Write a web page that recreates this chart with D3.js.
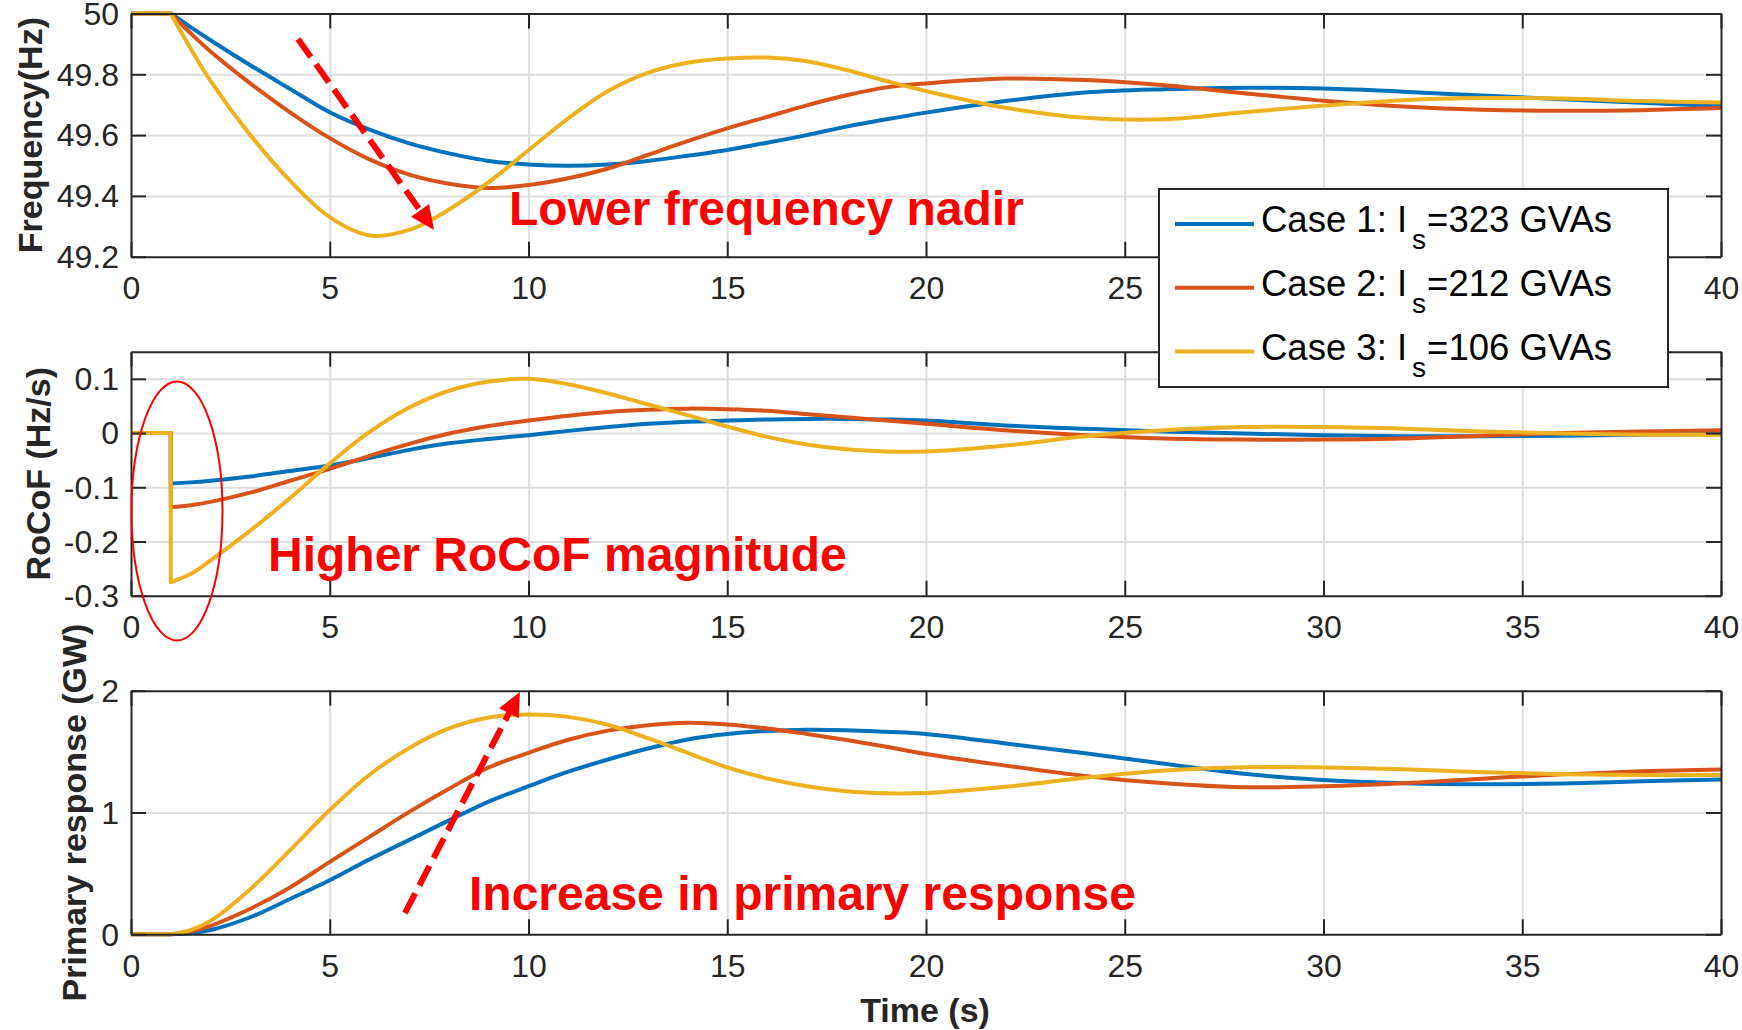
<!DOCTYPE html>
<html><head><meta charset="utf-8">
<script src="https://cdn.jsdelivr.net/npm/d3@7"></script>
<style>
body{margin:0;background:#fff;}
text{font-family:"Liberation Sans",Arial,Helvetica,sans-serif;}
</style>
</head><body>
<svg id="chart" width="1742" height="1030"></svg>
<script>
// ---------- data ----------
const timeTicks = [0, 5, 10, 15, 20, 25, 30, 35, 40];
const timePre = [0, 1];
const timePost = [1, 1.5, 2, 3, 4, 5, 6, 7, 8, 9, 10, 11, 12, 13, 14, 15, 16, 17, 18, 19, 20, 22, 24, 26, 28, 30, 32, 34, 36, 38, 40];

const caseNames = ["Case 1", "Case 2", "Case 3"];
const inertia = [323, 212, 106];
const caseColors = ["#0072BD", "#D95319", "#EDB120"];

const freqTicks = [49.2, 49.4, 49.6, 49.8, 50];
const freqTickLabels = ["49.2", "49.4", "49.6", "49.8", "50"];
const freqPre = 50;
const freqCase1 = [50, 49.955, 49.912, 49.83, 49.752, 49.675, 49.618, 49.573, 49.54, 49.515, 49.503, 49.499, 49.503, 49.515, 49.532, 49.551, 49.575, 49.6, 49.628, 49.652, 49.674, 49.712, 49.74, 49.751, 49.756, 49.753, 49.743, 49.73, 49.718, 49.706, 49.696];
const freqCase2 = [50, 49.935, 49.875, 49.77, 49.675, 49.59, 49.52, 49.47, 49.44, 49.426, 49.436, 49.458, 49.49, 49.535, 49.58, 49.622, 49.66, 49.698, 49.731, 49.757, 49.77, 49.786, 49.781, 49.764, 49.738, 49.713, 49.694, 49.683, 49.68, 49.682, 49.689];
const freqCase3 = [50, 49.885, 49.778, 49.6, 49.45, 49.33, 49.27, 49.288, 49.355, 49.445, 49.55, 49.655, 49.745, 49.805, 49.838, 49.852, 49.855, 49.843, 49.814, 49.778, 49.745, 49.69, 49.657, 49.652, 49.675, 49.697, 49.715, 49.722, 49.72, 49.712, 49.707];

const rocofTicks = [-0.3, -0.2, -0.1, 0, 0.1];
const rocofTickLabels = ["-0.3", "-0.2", "-0.1", "0", "0.1"];
const rocofPre = 0;
const rocofCase1 = [-0.093, -0.091, -0.088, -0.08, -0.07, -0.06, -0.046, -0.031, -0.019, -0.011, -0.004, 0.004, 0.011, 0.017, 0.021, 0.023, 0.025, 0.026, 0.026, 0.025, 0.023, 0.014, 0.008, 0.003, -0.001, -0.004, -0.006, -0.006, -0.005, -0.003, -0.002];
const rocofCase2 = [-0.137, -0.133, -0.127, -0.11, -0.088, -0.066, -0.042, -0.02, -0.001, 0.013, 0.023, 0.032, 0.039, 0.043, 0.045, 0.044, 0.041, 0.035, 0.029, 0.023, 0.017, 0.005, -0.004, -0.01, -0.012, -0.012, -0.01, -0.005, 0, 0.003, 0.005];
const rocofCase3 = [-0.275, -0.26, -0.235, -0.18, -0.12, -0.056, 0.002, 0.047, 0.078, 0.095, 0.1, 0.09, 0.073, 0.053, 0.033, 0.012, -0.007, -0.021, -0.03, -0.034, -0.034, -0.023, -0.006, 0.005, 0.011, 0.011, 0.008, 0.003, -0.001, -0.003, -0.003];

const primTicks = [0, 1, 2];
const primTickLabels = ["0", "1", "2"];
const primPre = 0;
const primCase1 = [0, 0.01, 0.035, 0.14, 0.29, 0.444, 0.615, 0.775, 0.935, 1.09, 1.216, 1.335, 1.435, 1.525, 1.6, 1.644, 1.67, 1.68, 1.676, 1.662, 1.645, 1.567, 1.486, 1.4, 1.318, 1.266, 1.24, 1.232, 1.238, 1.256, 1.271];
const primCase2 = [0, 0.025, 0.07, 0.21, 0.385, 0.595, 0.8, 1.005, 1.195, 1.37, 1.49, 1.597, 1.672, 1.717, 1.737, 1.723, 1.69, 1.645, 1.595, 1.54, 1.48, 1.385, 1.3, 1.24, 1.208, 1.216, 1.24, 1.278, 1.313, 1.338, 1.353];
const primCase3 = [0, 0.035, 0.11, 0.37, 0.69, 1.02, 1.31, 1.53, 1.69, 1.78, 1.805, 1.785, 1.72, 1.61, 1.49, 1.37, 1.28, 1.215, 1.175, 1.158, 1.16, 1.211, 1.285, 1.345, 1.372, 1.37, 1.355, 1.33, 1.315, 1.307, 1.307];

const yLabels = ["Frequency(Hz)", "RoCoF (Hz/s)", "Primary response (GW)"];
const xLabel = "Time (s)";
const notes = ["Lower frequency nadir", "Higher RoCoF magnitude", "Increase in primary response"];

// ---------- layout ----------
const svg = d3.select("#chart");
const L = 131, R = 1721;
const panels = [
  {top: 13.5, bottom: 256.7, domain: [49.2, 50], ticks: freqTicks, labels: freqTickLabels, pre: freqPre, series: [freqCase1, freqCase2, freqCase3], ylabel: yLabels[0], ylabelX: 42, hideX: [30, 35]},
  {top: 351.7, bottom: 595.7, domain: [-0.3, 0.15], ticks: rocofTicks, labels: rocofTickLabels, pre: rocofPre, series: [rocofCase1, rocofCase2, rocofCase3], ylabel: yLabels[1], ylabelX: 50, hideX: []},
  {top: 690.7, bottom: 934.3, domain: [0, 2], ticks: primTicks, labels: primTickLabels, pre: primPre, series: [primCase1, primCase2, primCase3], ylabel: yLabels[2], ylabelX: 86, hideX: []}
];
const x = d3.scaleLinear().domain([0, 40]).range([L, R]);
const axisColor = "#262626";
const gridColor = "#dedede";

panels.forEach((p, pi) => {
  const y = d3.scaleLinear().domain(p.domain).range([p.bottom, p.top]);
  const H = p.bottom - p.top, W = R - L;
  const g = svg.append("g");

  // grid
  const gx = g.append("g").attr("transform", `translate(0,${p.bottom})`)
    .call(d3.axisBottom(x).tickValues(timeTicks.slice(1, -1)).tickSize(-H).tickFormat(""));
  const gy = g.append("g").attr("transform", `translate(${L},0)`)
    .call(d3.axisLeft(y).tickValues(p.ticks.filter(v => v > p.domain[0] && v < p.domain[1])).tickSize(-W).tickFormat(""));
  [gx, gy].forEach(a => { a.select(".domain").remove(); a.selectAll("line").attr("stroke", gridColor).attr("stroke-width", 2); });

  // lines
  const linePre = d3.line().x(d => x(d[0])).y(d => y(d[1]));
  const linePost = d3.line().x(d => x(d[0])).y(d => y(d[1])).curve(d3.curveCatmullRom.alpha(0.5));
  p.series.forEach((s, si) => {
    const pre = timePre.map(t => [t, p.pre]);
    const post = timePost.map((t, i) => [t, s[i]]);
    const dstr = linePre(pre) + linePost(post).replace(/^M/, "L");
    g.append("path").attr("d", dstr).attr("fill", "none")
      .attr("stroke", caseColors[si]).attr("stroke-width", 4).attr("stroke-linejoin", "round");
  });

  // axes (box with inward ticks)
  const fmt = v => p.labels[p.ticks.indexOf(v)];
  const ab = g.append("g").attr("transform", `translate(0,${p.bottom})`)
    .call(d3.axisBottom(x).tickValues(timeTicks).tickSizeInner(-15).tickSizeOuter(0).tickPadding(20)
      .tickFormat(v => p.hideX.includes(v) ? "" : d3.format("d")(v)));
  const at = g.append("g").attr("transform", `translate(0,${p.top})`)
    .call(d3.axisTop(x).tickValues(timeTicks).tickSizeInner(-15).tickSizeOuter(0).tickFormat(""));
  const al = g.append("g").attr("transform", `translate(${L},0)`)
    .call(d3.axisLeft(y).tickValues(p.ticks).tickSizeInner(-15).tickSizeOuter(0).tickPadding(12).tickFormat(fmt));
  const ar = g.append("g").attr("transform", `translate(${R},0)`)
    .call(d3.axisRight(y).tickValues(p.ticks).tickSizeInner(-15).tickSizeOuter(0).tickFormat(""));
  [ab, at, al, ar].forEach(a => {
    a.select(".domain").attr("stroke", axisColor).attr("stroke-width", 2);
    a.selectAll("line").attr("stroke", axisColor).attr("stroke-width", 2);
    a.selectAll("text").attr("fill", axisColor).style("font-size", "32px").style("font-family", '"Liberation Sans",Arial,sans-serif');
  });
  al.selectAll("text").attr("dy", "0.34em");

  // y label
  g.append("text").attr("transform", `translate(${p.ylabelX},${(p.top + p.bottom) / 2}) rotate(-90)`)
    .attr("text-anchor", "middle").attr("fill", axisColor)
    .style("font-size", "34px").style("font-weight", "bold").text(p.ylabel);
});

// x label
svg.append("text").attr("x", 925).attr("y", 1022).attr("text-anchor", "middle")
  .attr("fill", axisColor).style("font-size", "34px").style("font-weight", "bold").text(xLabel);

// ---------- legend ----------
const leg = svg.append("g");
leg.append("rect").attr("x", 1159).attr("y", 189).attr("width", 509).attr("height", 198)
  .attr("fill", "#fff").attr("stroke", axisColor).attr("stroke-width", 2);
caseNames.forEach((c, i) => {
  const ly = 224 + i * 63.8;
  leg.append("line").attr("x1", 1175).attr("x2", 1254).attr("y1", ly).attr("y2", ly)
    .attr("stroke", caseColors[i]).attr("stroke-width", 4);
  const t = leg.append("text").attr("x", 1261).attr("y", ly + 8).attr("fill", "#000").style("font-size", "36.5px");
  t.append("tspan").text(`${c}: I`);
  t.append("tspan").attr("dy", 17).attr("dx", 5).style("font-size", "28px").text("s");
  t.append("tspan").attr("dy", -17).attr("dx", 1).text(`=${inertia[i]} GVAs`);
});

// ---------- annotations ----------
const red = "#FF0000";
const noteG = svg.append("g");
const notePos = [[509, 225], [268, 571], [469, 910]];
notes.forEach((n, i) => {
  noteG.append("text").attr("x", notePos[i][0]).attr("y", notePos[i][1]).attr("fill", red)
    .style("font-size", "48px").style("font-weight", "bold").text(n);
});
function arrow(x1, y1, x2, y2) {
  const dx = x2 - x1, dy = y2 - y1, len = Math.hypot(dx, dy);
  const ux = dx / len, uy = dy / len, hl = 24, hw = 11;
  const bx = x2 - ux * hl, by = y2 - uy * hl;
  noteG.append("line").attr("x1", x1).attr("y1", y1).attr("x2", bx + ux * 2).attr("y2", by + uy * 2)
    .attr("stroke", red).attr("stroke-width", 6).attr("stroke-dasharray", "22,9");
  noteG.append("path").attr("d", `M${x2},${y2}L${bx - uy * hw},${by + ux * hw}L${bx + uy * hw},${by - ux * hw}Z`)
    .attr("fill", red);
}
arrow(298, 39, 434, 230);
arrow(405, 913, 520, 692);
noteG.append("ellipse").attr("cx", 177).attr("cy", 511).attr("rx", 45.5).attr("ry", 129.5)
  .attr("fill", "none").attr("stroke", red).attr("stroke-width", 2);
</script>
</body></html>
